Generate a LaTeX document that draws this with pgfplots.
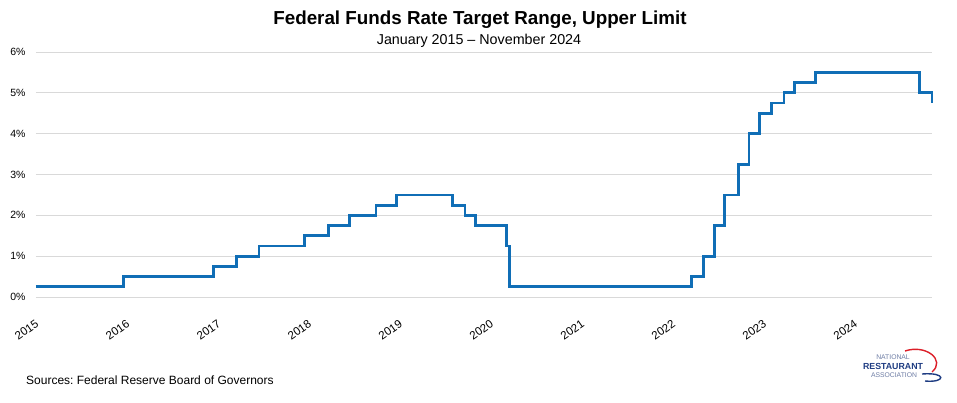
\documentclass[border=0pt]{standalone}
\usepackage{pgfplots}
\pgfplotsset{compat=1.18}
\usepackage{pgfplotstable}
\usepackage{fontspec}
\setmainfont{Liberation Sans}
\definecolor{lineblue}{RGB}{16,110,182}
\definecolor{gridgray}{RGB}{217,217,217}
\definecolor{logoblue}{RGB}{30,60,130}
\definecolor{logogray}{RGB}{110,125,165}
\definecolor{logored}{RGB}{220,30,40}
\pgfplotstableread{
x y
2015.000 0.25
2015.959 0.50
2016.954 0.75
2017.203 1.00
2017.452 1.25
2017.951 1.50
2018.219 1.75
2018.449 2.00
2018.737 2.25
2018.967 2.50
2019.581 2.25
2019.715 2.00
2019.830 1.75
2020.172 1.25
2020.205 0.25
2022.205 0.50
2022.340 1.00
2022.455 1.75
2022.570 2.50
2022.723 3.25
2022.838 4.00
2022.953 4.50
2023.088 4.75
2023.222 5.00
2023.337 5.25
2023.567 5.50
2024.716 5.00
2024.850 4.75
}\ratedata
\begin{document}
\frenchspacing
\begin{tikzpicture}[x=1pt,y=1pt]
\path[fill=white] (0,0) rectangle (957,402);
\begin{axis}[
  at={(36pt,105pt)}, anchor=south west,
  scale only axis, width=896pt, height=245pt,
  xmin=2015, xmax=2024.85, ymin=0, ymax=6,
  axis line style={draw=none},
  major tick length=0pt,
  ymajorgrids, grid style={gridgray, line width=0.8pt},
  ytick={0,1,2,3,4,5,6},
  yticklabels={0\%,1\%,2\%,3\%,4\%,5\%,6\%},
  yticklabel style={font=\fontsize{10.5}{12}\selectfont, anchor=east, xshift=-7pt},
  xtick={2015,2016,2017,2018,2019,2020,2021,2022,2023,2024},
  xticklabels={2015,2016,2017,2018,2019,2020,2021,2022,2023,2024},
  xticklabel style={font=\fontsize{11.5}{13}\selectfont, rotate=35, anchor=north east, xshift=-10.3pt, yshift=-14pt},
  clip=false,
]
\addplot[const plot, lineblue, line width=2.8pt, line join=miter] table[x=x, y=y] {\ratedata};
\end{axis}
\node[font=\bfseries\fontsize{18.8}{21}\selectfont] at (480,402-20) {Federal Funds Rate Target Range, Upper Limit};
\node[font=\fontsize{14.3}{16}\selectfont] at (479,402-41) {January 2015 -- November 2024};
\node[font=\fontsize{12}{14}\selectfont, anchor=west, inner sep=0pt] at (26,402-380) {Sources: Federal Reserve Board of Governors};
% logo
\draw[logored, line width=1.4pt] (905,402-351) .. controls (926,402-344) and (946,402-360) .. (932,402-372);
\draw[logoblue, line width=1.4pt] (922,402-374) .. controls (947,402-372) and (946,402-383) .. (925,402-381);
\node[font=\fontsize{6.8}{7}\selectfont, text=logogray, inner sep=0pt] at (893,402-357) {NATIONAL};
\node[font=\bfseries\fontsize{8.8}{9}\selectfont, text=logoblue, inner sep=0pt] at (893,402-366) {RESTAURANT};
\node[font=\fontsize{6.8}{7}\selectfont, text=logogray, inner sep=0pt] at (894,402-375) {ASSOCIATION};
\end{tikzpicture}
\end{document}
